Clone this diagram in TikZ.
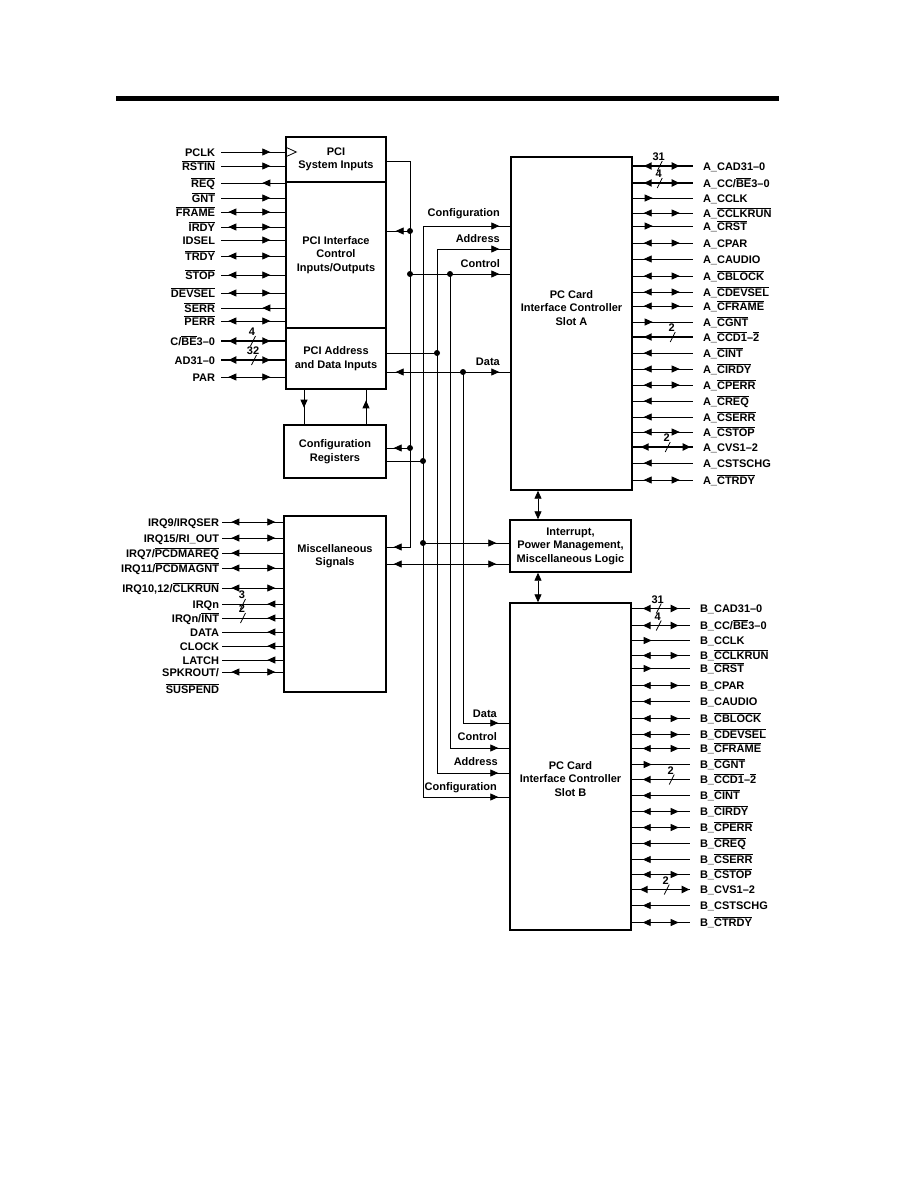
\documentclass[tikz,border=0pt]{standalone}
\usepackage{fontspec}
\setmainfont{Liberation Sans}
\usetikzlibrary{arrows.meta,decorations.markings,calc}

\newcommand\nbar[1]{\ensuremath{\overline{\mbox{#1}}}}

\tikzset{
  >={Triangle[length=8pt,width=7pt]},
  fwd/.style={postaction={decorate,decoration={markings,mark=at position #1 with {\arrow{>}}}}},
  bwd/.style={postaction={decorate,decoration={markings,mark=at position #1 with {\arrowreversed{>}}}}},
  wire/.style={line width=0.8pt},
  bus/.style={line width=1.8pt},
  blk/.style={draw, line width=1.4pt, inner sep=0pt, align=center},
  pinL/.style={anchor=east, inner sep=0pt, outer xsep=6pt, text height=8pt, text depth=0pt},
  pinM/.style={pinL, outer xsep=3pt},
  pinR/.style={anchor=west, inner sep=0pt, outer xsep=10pt, text height=8pt, text depth=0pt},
  buslbl/.style={anchor=east, inner sep=0pt, text height=8pt, text depth=0pt},
  % PCI側
  pciIn/.style={wire, fwd=-15pt},
  pciOut/.style={wire, bwd=-23pt},
  pciBi/.style={wire, bwd=-57pt, fwd=-15pt},
  pciBus/.style={pciBi, bus},
  % その他の信号
  mscBi/.style={wire, bwd=-52pt, fwd=-8pt},
  mscOut/.style={wire, bwd=-16pt},
  mscFar/.style={wire, bwd=-52pt},
  % カード側
  crdIn/.style={wire, bwd=11pt},
  crdOut/.style={wire, fwd=20pt},
  crdBi/.style={wire, bwd=11pt, fwd=47pt},
  crdInBus/.style={crdIn, bus},
  crdBus/.style={crdBi, bus},
  crdVsBus/.style={wire, bus, bwd=8pt, fwd=58pt},
  bw/.pic={\draw[wire] (-2.5pt,-5pt) -- (2.5pt,5pt);
           \node[inner sep=1pt, anchor=south] at (-1pt,4pt) {#1};},
}

\begin{document}
\begin{tikzpicture}[x=1pt,y=-1pt,font=\bfseries\fontsize{11}{13.5}\selectfont]
    \path[use as bounding box] (0,0) rectangle (918,1188);

    % 上部の太線
    \fill (116,96) rectangle (779,101);

    % ブロック
    \node[blk, minimum width=100pt, minimum height=45pt] (sysin) at (336,159.5) {PCI\\System Inputs};
    \node[blk, minimum width=100pt, minimum height=146pt] (pcictl) at (336,255) {PCI Interface\\Control\\Inputs/Outputs};
    \node[blk, minimum width=100pt, minimum height=61pt] (pciad) at (336,358.5) {PCI Address\\and Data Inputs};
    \node[blk, minimum width=102pt, minimum height=53pt] (cfgreg) at (335,451.5) {Configuration\\Registers};
    \node[blk, minimum width=102pt, minimum height=176pt] (misc) at (335,604) {};
    \node[align=center] (misctxt) at (335,556) {Miscellaneous\\Signals};
    \node[blk, minimum width=121pt, minimum height=333pt] (cardA) at (571.5,323.5) {};
    \node[align=center] (cardAtxt) at (571.5,308) {PC Card\\Interface Controller\\Slot A};
    \node[blk, minimum width=121pt, minimum height=52pt] (intr) at (570.5,546) {Interrupt,\\Power Management,\\Miscellaneous Logic};
    \node[blk, minimum width=121pt, minimum height=327pt] (cardB) at (570.5,766.5) {};
    \node[align=center] (cardBtxt) at (570.5,779) {PC Card\\Interface Controller\\Slot B};

    % PCIバス信号
    \foreach \y/\k/\b/\t [count=\i] in {152/pciIn/sysin/PCLK, 166/pciIn/sysin/\nbar{RSTIN},
        183/pciOut/pcictl/\nbar{REQ}, 198/pciIn/pcictl/\nbar{GNT}, 212/pciBi/pcictl/\nbar{FRAME},
        227/pciBi/pcictl/\nbar{IRDY}, 240/pciIn/pcictl/IDSEL, 256/pciBi/pcictl/\nbar{TRDY},
        275/pciBi/pcictl/\nbar{STOP}, 293/pciBi/pcictl/\nbar{DEVSEL}, 308/pciOut/pcictl/\nbar{SERR},
        321/pciBi/pcictl/\nbar{PERR}, 341/pciBus/pciad/{C/\nbar{BE}3--0}, 360/pciBus/pciad/AD31--0,
        377/pciBi/pciad/PAR} {
      \node[pinL] (pl\i) at (221,\y) {\t};
      \draw[\k] (pl\i.east) -- (pl\i.east -| \b.west);
    }
    \pic at ($(pl13.east)+(32,0)$) {bw=4};
    \pic at ($(pl14.east)+(33,0)$) {bw=32};
    % クロック入力の三角
    \draw[wire] (pl1.east -| sysin.west) ++(0,-5) -- ++(11,5) -- ++(-11,5);

    % その他の信号
    \foreach \y/\k/\t [count=\i] in {522/mscBi/{IRQ9/IRQSER}, 538/mscBi/{IRQ15/RI\_OUT},
        553/mscFar/{IRQ7/\nbar{PCDMAREQ}}, 568/mscBi/{IRQ11/\nbar{PCDMAGNT}},
        588/mscBi/{IRQ10,12/\nbar{CLKRUN}}, 604/mscOut/IRQn, 618/mscOut/{IRQn/\nbar{INT}},
        632/mscOut/DATA, 646/mscOut/CLOCK, 660/mscOut/LATCH, 672/mscBi/{SPKROUT/}} {
      \node[pinM] (pm\i) at (222,\y) {\t};
      \draw[\k] (pm\i.east) -- (pm\i.east -| misc.west);
    }
    \node[pinM] (pm12) at (222,689) {\nbar{SUSPEND}};
    \pic at ($(pm6.east)+(21,0)$) {bw=3};
    \pic at ($(pm7.east)+(21,0)$) {bw=2};

    % 内部バスの分岐点
    \coordinate[] (ctlT) at (410,161);
    \coordinate[] (ctlI) at (410,231);
    \coordinate[] (ctlC) at (410,274);
    \coordinate[] (ctlR) at (410,448);
    \coordinate[] (ctlM) at (410,547);
    \coordinate[] (ctlX) at (450,274);
    \coordinate[] (ctlB) at (450,748);
    \coordinate[] (cfgT) at (423,226);
    \coordinate[] (cfgR) at (423,461);
    \coordinate[] (cfgI) at (423,543);
    \coordinate[] (cfgB) at (423,797);
    \coordinate[] (adrT) at (437,249);
    \coordinate[] (adrP) at (437,353);
    \coordinate[] (adrB) at (437,773);
    \coordinate[] (datX) at (463,372);
    \coordinate[] (datB) at (463,723);
    \coordinate[] (mscY) at (0,564);
    \coordinate[] (vx) at (538,0);

    % Control
    \draw[wire, fwd=-7pt] (sysin.east |- ctlT) -- (ctlT) -- (ctlM) -- (ctlM -| misc.east);
    \draw[wire, fwd=-9pt] (ctlI) -- (ctlI -| pcictl.east);
    \draw[wire, fwd=-7pt] (ctlR) -- (ctlR -| cfgreg.east);
    \draw[wire, fwd=-11pt] (ctlC) -- (ctlC -| cardA.west);
    \draw[wire, fwd=-11pt] (ctlX) -- (ctlB) -- (ctlB -| cardB.west);
    % Configuration
    \draw[wire] (cfgreg.east |- cfgR) -- (cfgR);
    \draw[wire, fwd=-11pt] (cfgR) -- (cfgT) -- (cfgT -| cardA.west);
    \draw[wire, fwd=-11pt] (cfgR) -- (cfgB) -- (cfgB -| cardB.west);
    \draw[wire, fwd=-13pt] (cfgI) -- (cfgI -| intr.west);
    % Address
    \draw[wire] (pciad.east |- adrP) -- (adrP);
    \draw[wire, fwd=-11pt] (adrP) -- (adrT) -- (adrT -| cardA.west);
    \draw[wire, fwd=-11pt] (adrP) -- (adrB) -- (adrB -| cardB.west);
    % Data
    \draw[wire, bwd=9pt, fwd=-11pt] (pciad.east |- datX) -- (datX -| cardA.west);
    \draw[wire, fwd=-11pt] (datX) -- (datB) -- (datB -| cardB.west);
    % その他 <-> 割り込み
    \draw[wire, bwd=7pt, fwd=-13pt] (misc.east |- mscY) -- (intr.west |- mscY);
    % 構成レジスタ
    \draw[wire, fwd=18pt] (304,0 |- pciad.south) -- (304,0 |- cfgreg.north);
    \draw[wire, fwd=24pt] (366,0 |- cfgreg.north) -- (366,0 |- pciad.south);
    % 縦の双方向
    \draw[wire, <->] (vx |- cardA.south) -- (vx |- intr.north);
    \draw[wire, <->] (vx |- intr.south) -- (vx |- cardB.north);

    \foreach \pt in {ctlI,ctlC,ctlR,ctlX,cfgR,cfgI,adrP,datX} {
      \fill (\pt) circle (3pt);
    }

    % バス名
    \node[buslbl] (lcfgA) at (500,212) {Configuration};
    \node[buslbl] (ladrA) at (500,238) {Address};
    \node[buslbl] (lctlA) at (500,263) {Control};
    \node[buslbl] (ldatA) at (500,361) {Data};
    \node[buslbl] (ldatB) at (497,713) {Data};
    \node[buslbl] (lctlB) at (497,736) {Control};
    \node[buslbl] (ladrB) at (498,761) {Address};
    \node[buslbl] (lcfgB) at (497,786) {Configuration};

    % カードスロット信号
    \foreach \s/\c/\dy/\lx in {A/cardA/0/693, B/cardB/442.5/690} {
      \foreach \y/\k/\t [count=\i] in {166/crdBus/\s\_CAD31--0, 183/crdBus/{\s\_CC/\nbar{BE}3--0},
          198/crdOut/\s\_CCLK, 213/crdBi/\s\_\nbar{CCLKRUN}, 226/crdOut/\s\_\nbar{CRST},
          243/crdBi/\s\_CPAR, 259/crdIn/\s\_CAUDIO, 276/crdBi/\s\_\nbar{CBLOCK},
          292/crdBi/\s\_\nbar{CDEVSEL}, 306/crdBi/\s\_\nbar{CFRAME}, 322/crdOut/\s\_\nbar{CGNT},
          337/crdInBus/\s\_\nbar{CCD1}--\nbar{2}, 353/crdIn/\s\_\nbar{CINT}, 369/crdBi/\s\_\nbar{CIRDY},
          385/crdBi/\s\_\nbar{CPERR}, 401/crdIn/\s\_\nbar{CREQ}, 417/crdIn/\s\_\nbar{CSERR},
          432/crdBi/\s\_\nbar{CSTOP}, 447/crdVsBus/\s\_CVS1--2, 463/crdIn/\s\_CSTSCHG,
          480/crdBi/\s\_\nbar{CTRDY}} {
        \node[pinR] (p\s\i) at (\lx,\y+\dy) {\t};
        \draw[\k] (p\s\i.west -| \c.east) -- (p\s\i.west);
      }
      \pic at ($(p\s1.west -| \c.east)+(27,0)$) {bw=31};
      \pic at ($(p\s2.west -| \c.east)+(27,0)$) {bw=4};
      \pic at ($(p\s12.west -| \c.east)+(40,0)$) {bw=2};
      \pic at ($(p\s19.west -| \c.east)+(35,0)$) {bw=2};
    }
\end{tikzpicture}
\end{document}
